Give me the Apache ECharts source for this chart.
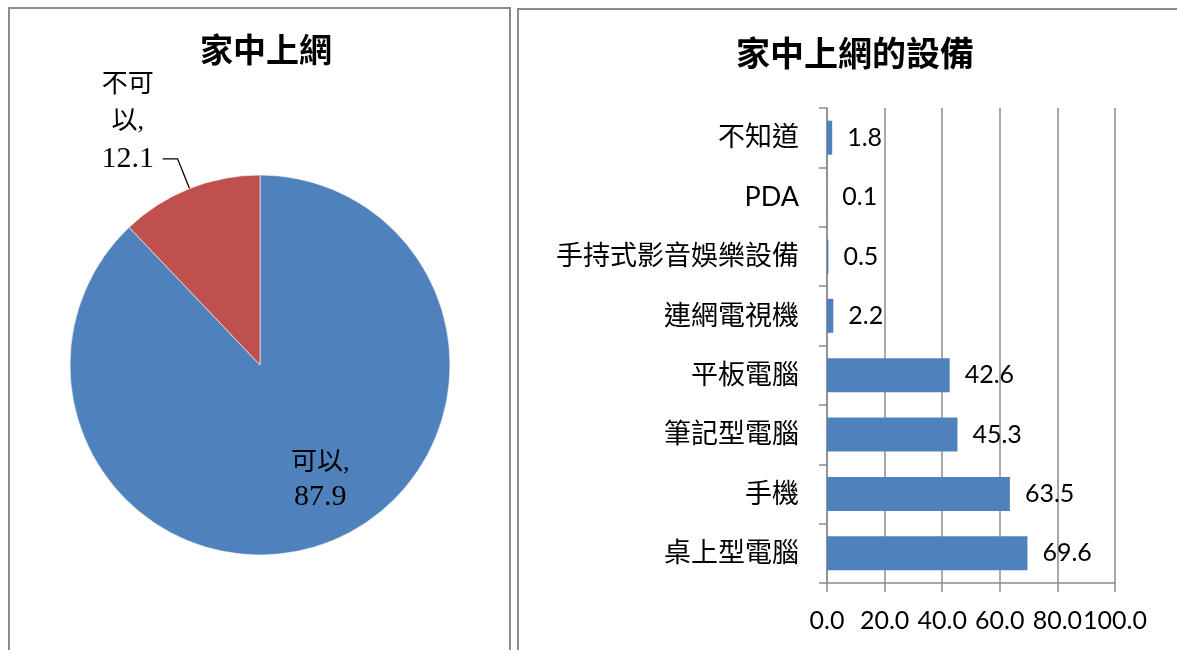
<!DOCTYPE html>
<html>
<head>
<meta charset="utf-8">
<script src="https://cdn.jsdelivr.net/npm/echarts@6/dist/echarts.min.js"></script>
<style>
  html, body { margin: 0; padding: 0; background: #ffffff; }
  #chart { width: 1177px; height: 650px; }
</style>
</head>
<body>
<div id="chart"></div>
<script>
// Home internet access (share of respondents, %)
const accessNames = ['可以', '不可以'];
const accessValues = [87.9, 12.1];

// Devices used to go online at home (%), listed bottom to top
const deviceNames = ['桌上型電腦', '手機', '筆記型電腦', '平板電腦', '連網電視機', '手持式影音娛樂設備', 'PDA', '不知道'];
const deviceValues = [69.6, 63.5, 45.3, 42.6, 2.2, 0.5, 0.1, 1.8];

// Value axis ticks
const valueTicks = [0, 20, 40, 60, 80, 100];

const CJK = 'Noto Sans CJK TC';
const SERIF = "'Liberation Serif', 'Noto Sans CJK TC'";
const SANS = "Lato, 'Noto Sans CJK TC'";
const BLUE = '#4F81BD';
const RED = '#C0504D';
const GRAY = '#8c8c8c';

// Wrap a pie label: small slices get their name broken into two-character lines
function pieLabel(p) {
  const name = p.name + ',';
  const lines = [];
  if (p.dataIndex === 0) {
    lines.push('{c|' + name + '}');
  } else {
    for (let i = 0; i < name.length; i += 2) lines.push('{c|' + name.slice(i, i + 2) + '}');
  }
  lines.push('{n|' + p.value.toFixed(1) + '}');
  return lines.join('\n');
}

function richFor(width, lineHeight) {
  return {
    c: { width: width, align: 'center', lineHeight: lineHeight, color: '#000', fontFamily: SERIF, fontSize: 26 },
    n: { width: width, align: 'center', lineHeight: lineHeight, color: '#000', fontFamily: SERIF, fontSize: 30 }
  };
}

const pieData = accessNames.map((name, i) => ({
  name: name,
  value: accessValues[i],
  label: i === 0
    ? { position: 'inside', rich: richFor(70, 34) }
    : { position: 'outside', padding: [0, 0, 74, 0], rich: richFor(60, 37) }
}));

const chart = echarts.init(document.getElementById('chart'), null, { renderer: 'canvas' });

chart.setOption({
  backgroundColor: '#ffffff',
  animation: false,
  graphic: [
    { type: 'rect', shape: { x: 9, y: 8, width: 501, height: 700 },
      style: { fill: 'none', stroke: GRAY, lineWidth: 2 }, silent: true },
    { type: 'rect', shape: { x: 518, y: 9, width: 700, height: 700 },
      style: { fill: 'none', stroke: GRAY, lineWidth: 2 }, silent: true }
  ],
  title: [
    { text: '家中上網', left: 261, top: 28, textAlign: 'center',
      textStyle: { fontFamily: CJK, fontSize: 33, fontWeight: 'bold', color: '#000' } },
    { text: '家中上網的設備', left: 850, top: 31, textAlign: 'center',
      textStyle: { fontFamily: CJK, fontSize: 34, fontWeight: 'bold', color: '#000' } }
  ],
  grid: { left: 827, right: 62, top: 108, bottom: 67 },
  xAxis: {
    type: 'value',
    min: valueTicks[0],
    max: valueTicks[valueTicks.length - 1],
    interval: valueTicks[1] - valueTicks[0],
    axisLine: { show: true, lineStyle: { color: GRAY, width: 1.5 } },
    axisTick: { show: true, length: 9, lineStyle: { color: GRAY, width: 1.5 } },
    splitLine: { show: true, lineStyle: { color: GRAY, width: 1.5 } },
    axisLabel: {
      margin: 25, color: '#000', fontFamily: SANS, fontSize: 25,
      formatter: v => v.toFixed(1)
    }
  },
  yAxis: {
    type: 'category',
    data: deviceNames,
    axisLine: { show: true, lineStyle: { color: GRAY, width: 1.5 } },
    axisTick: { show: true, length: 8, lineStyle: { color: GRAY, width: 1.5 } },
    splitLine: { show: false },
    axisLabel: { margin: 28, color: '#000', fontFamily: SANS, fontSize: 27 }
  },
  series: [
    {
      type: 'pie',
      center: [260, 365],
      radius: 190,
      startAngle: 90,
      clockwise: true,
      avoidLabelOverlap: false,
      color: [BLUE, RED],
      itemStyle: { borderColor: '#ffffff', borderWidth: 0.6 },
      data: pieData,
      label: {
        show: true,
        formatter: pieLabel,
        color: '#000',
        fontFamily: SERIF,
        fontSize: 26,
        distanceToLabelLine: 5
      },
      labelLine: {
        show: true, length: 32, length2: 15,
        lineStyle: { color: '#000', width: 1.3 }
      },
      labelLayout: function (p) {
        if (p.dataIndex === 0) return { dx: 24, dy: 24 };
        return {};
      },
      emphasis: { disabled: true }
    },
    {
      type: 'bar',
      data: deviceValues,
      barWidth: 34,
      itemStyle: { color: BLUE },
      label: {
        show: true, position: 'right', distance: 15,
        color: '#000', fontFamily: SANS, fontSize: 25,
        formatter: p => p.value.toFixed(1)
      },
      emphasis: { disabled: true }
    }
  ]
});
</script>
</body>
</html>
